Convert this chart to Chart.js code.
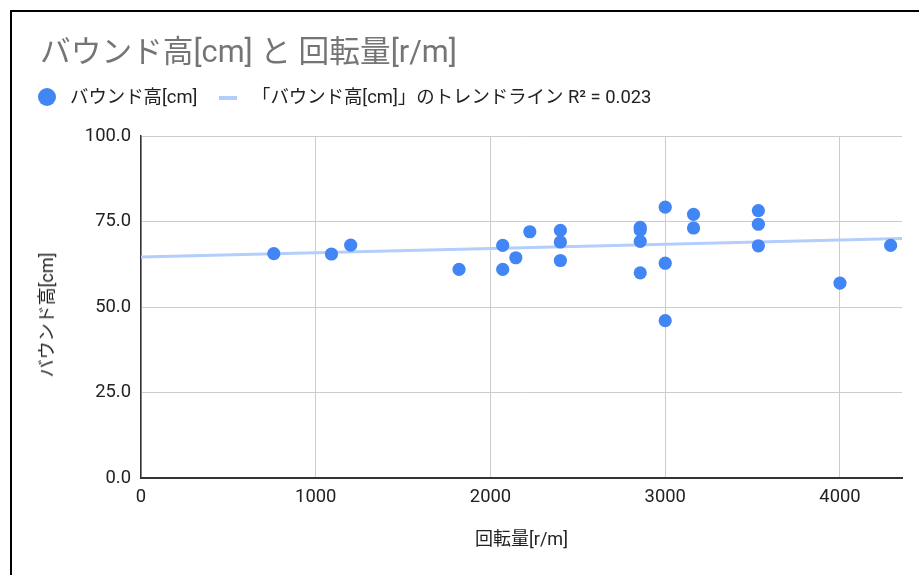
<!DOCTYPE html>
<html lang="ja">
<head>
<meta charset="utf-8">
<title>バウンド高[cm] と 回転量[r/m]</title>
<script src="https://cdn.jsdelivr.net/npm/chart.js@4/dist/chart.umd.min.js"></script>
<style>
  html, body { margin: 0; padding: 0; background: #fff; }
  body { width: 919px; height: 575px; position: relative; overflow: hidden;
         font-family: Roboto, "Noto Sans CJK JP", sans-serif; }
  #frame { position: absolute; left: 10px; top: 10px; width: 1000px; height: 700px;
           border-left: 2px solid #000; border-top: 2px solid #000; box-sizing: border-box; }
  #chart { position: absolute; left: 0; top: 0; }
  .title { position: absolute; left: 40px; top: 36px; font-size: 30.7px; line-height: 32px;
           color: #757575; white-space: nowrap; }
  .legend { position: absolute; top: 88px; font-size: 18.4px; line-height: 18px;
            color: #222; white-space: nowrap; }
  .dot { position: absolute; left: 38px; top: 88px; width: 18px; height: 18px;
         border-radius: 50%; background: #4285f4; }
  .dash { position: absolute; left: 219px; top: 96px; width: 18px; height: 4px;
          background: #b3cefb; }
  .ytitle { position: absolute; left: 47px; top: 315px; font-size: 18px; line-height: 20px;
            color: #222; white-space: nowrap; transform: translate(-50%, -50%) rotate(-90deg); }
</style>
</head>
<body>
<div id="frame"></div>
<canvas id="chart" width="919" height="575"></canvas>
<div class="title">バウンド高[cm] と 回転量[r/m]</div>
<span class="dot"></span>
<div class="legend" style="left:70px">バウンド高[cm]</div>
<span class="dash"></span>
<div class="legend" style="left:252px">「バウンド高[cm]」のトレンドライン R² = 0.023</div>
<div class="ytitle">バウンド高[cm]</div>
<script>
// 回転量 [r/m] と バウンド高 [cm]
const rpm = [760, 1090, 1200, 1820, 2070, 2070, 2145, 2225, 2400, 2400, 2400,
  2857, 2857, 2857, 2857, 3000, 3000, 3000, 3162, 3162, 3533, 3533, 3533, 4000, 4290];
const bounce = [65.6, 65.5, 68.1, 61.0, 68.0, 61.0, 64.4, 72.0, 72.4, 69.0, 63.6,
  73.3, 72.5, 69.2, 60.0, 79.2, 62.8, 46.0, 77.1, 73.1, 78.2, 74.2, 67.9, 57.0, 68.0];

// トレンドライン (端点を図から読む)
const trendX = [0, 4355];
const trendY = [64.6, 70.0];

const xTicks = [0, 1000, 2000, 3000, 4000];
const yTicks = [0, 25, 50, 75, 100];

const FONT = "Roboto, 'Noto Sans CJK JP', sans-serif";
Chart.defaults.font.family = FONT;
Chart.defaults.color = "#222";

const points = rpm.map((x, i) => ({ x, y: bounce[i] }));
const trend = trendX.map((x, i) => ({ x, y: trendY[i] }));

new Chart(document.getElementById("chart"), {
  type: "scatter",
  data: {
    datasets: [
      {
        label: "「バウンド高[cm]」のトレンドライン R² = 0.023",
        data: trend,
        showLine: true,
        borderColor: "#b3cefb",
        borderWidth: 3,
        pointRadius: 0,
        order: 2
      },
      {
        label: "バウンド高[cm]",
        data: points,
        backgroundColor: "#4285f4",
        borderWidth: 0,
        pointRadius: 6.6,
        order: 1
      }
    ]
  },
  options: {
    responsive: false,
    animation: false,
    layout: { padding: { top: 136, left: 0, right: 17, bottom: 0 } },
    plugins: { legend: { display: false }, title: { display: false }, tooltip: { enabled: false } },
    scales: {
      x: {
        type: "linear",
        min: trendX[0],
        max: trendX[1],
        afterBuildTicks: (scale) => {
          scale.ticks = xTicks.map((value) => ({ value }));
        },
        afterFit: (scale) => { scale.height = 97; },
        ticks: { padding: 8, font: { size: 18.4 }, color: "#222", callback: (v) => String(v) },
        grid: { color: "#ccc", drawTicks: false },
        border: { color: "#333", width: 2 },
        title: { display: true, text: "回転量[r/m]", font: { size: 18 }, color: "#222", padding: { top: 0, bottom: 24 } }
      },
      y: {
        min: 0,
        max: 100,
        afterBuildTicks: (scale) => {
          scale.ticks = yTicks.map((value) => ({ value }));
        },
        afterFit: (scale) => { scale.width = 141; },
        ticks: { padding: 10, font: { size: 18.4 }, color: "#222", callback: (v) => v.toFixed(1) },
        grid: { color: "#ccc", drawTicks: false },
        border: { color: "#333", width: 1.5 },
        title: { display: false }
      }
    }
  }
});
</script>
</body>
</html>
